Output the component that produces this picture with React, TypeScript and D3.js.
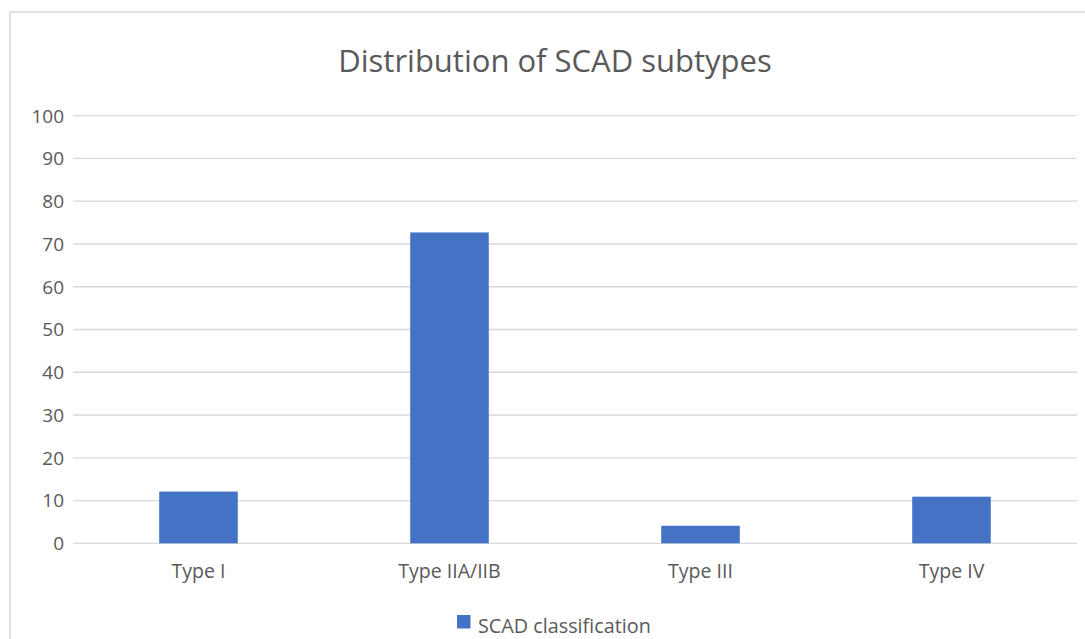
import { useEffect, useRef } from 'react';
import * as d3 from 'd3';

const categories = ['Type I', 'Type IIA/IIB', 'Type III', 'Type IV'];
const values = [12.1, 72.7, 4.1, 10.9];
const yTicks = [0, 10, 20, 30, 40, 50, 60, 70, 80, 90, 100];
const seriesName = 'SCAD classification';
const title = 'Distribution of SCAD subtypes';

const App = () => {
  const svgRef = useRef<SVGSVGElement | null>(null);

  useEffect(() => {
    const width = 1085;
    const height = 639;
    const margin = { top: 115.7, right: 8, bottom: 95.7, left: 73 };
    const font = "'Open Sans', 'Noto Sans', sans-serif";
    const textColor = '#595959';

    const svg = d3.select(svgRef.current);
    svg.selectAll('*').remove();
    svg.attr('width', width).attr('height', height).style('font-family', font);

    // chart area frame (right and bottom edges fall outside the picture)
    svg.append('rect')
      .attr('x', 10).attr('y', 12)
      .attr('width', width).attr('height', height)
      .attr('fill', '#fff')
      .attr('stroke', '#d9d9d9')
      .attr('stroke-width', 1.5);

    const x = d3.scaleBand()
      .domain(categories)
      .range([margin.left, width - margin.right])
      .paddingInner(0.687)
      .paddingOuter(0.3435);

    const y = d3.scaleLinear()
      .domain([0, 100])
      .range([height - margin.bottom, margin.top]);

    // gridlines + tick labels
    const grid = svg.append('g');
    grid.selectAll('line')
      .data(yTicks)
      .join('line')
      .attr('x1', margin.left)
      .attr('x2', width - margin.right)
      .attr('y1', d => y(d))
      .attr('y2', d => y(d))
      .attr('stroke', '#d9d9d9')
      .attr('stroke-width', 1.3);

    grid.selectAll('text')
      .data(yTicks)
      .join('text')
      .attr('x', 64)
      .attr('y', d => y(d))
      .attr('dy', '0.36em')
      .attr('text-anchor', 'end')
      .attr('fill', textColor)
      .style('font-size', '19px')
      .text(d => d);

    // bars
    svg.append('g')
      .selectAll('rect')
      .data(values)
      .join('rect')
      .attr('x', (_, i) => x(categories[i])!)
      .attr('width', x.bandwidth())
      .attr('y', d => y(d))
      .attr('height', d => y(0) - y(d))
      .attr('fill', '#4472c4');

    // category labels
    svg.append('g')
      .selectAll('text')
      .data(categories)
      .join('text')
      .attr('x', d => x(d)! + x.bandwidth() / 2)
      .attr('y', 578)
      .attr('text-anchor', 'middle')
      .attr('fill', textColor)
      .style('font-size', '19.5px')
      .text(d => d);

    // title
    svg.append('text')
      .attr('x', 555)
      .attr('y', 72)
      .attr('text-anchor', 'middle')
      .attr('fill', textColor)
      .style('font-size', '31px')
      .text(title);

    // legend
    const legend = svg.append('g');
    legend.append('rect')
      .attr('x', 457).attr('y', 615)
      .attr('width', 13.5).attr('height', 13.5)
      .attr('fill', '#4472c4');
    legend.append('text')
      .attr('x', 478)
      .attr('y', 633)
      .attr('fill', textColor)
      .style('font-size', '19.8px')
      .text(seriesName);
  }, []);

  return (
    <div style={{ position: 'absolute', left: 0, top: 0 }}>
      <svg ref={svgRef} style={{ display: 'block' }} />
    </div>
  );
};

export default App;
